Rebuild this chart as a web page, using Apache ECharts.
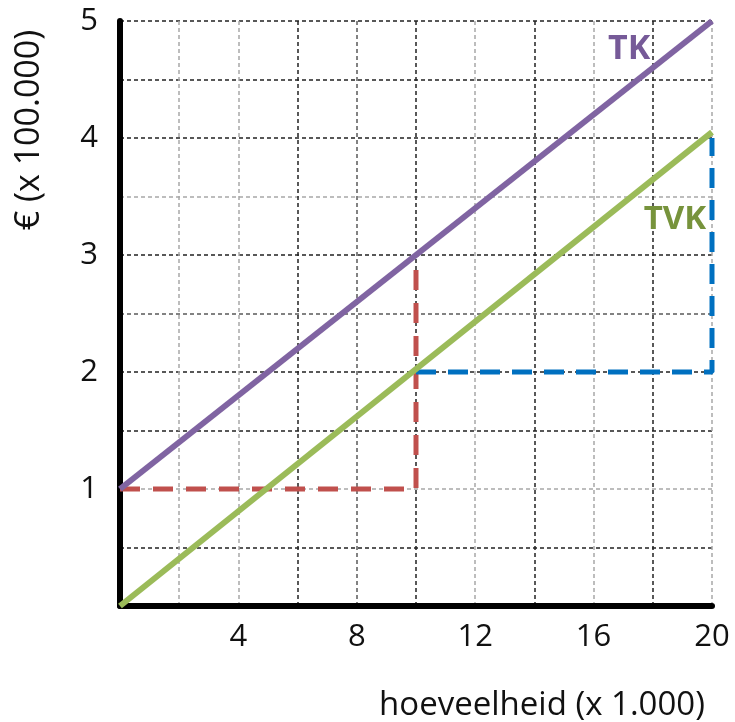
<!DOCTYPE html>
<html>
<head>
<meta charset="utf-8">
<script src="https://cdn.jsdelivr.net/npm/echarts@6/dist/echarts.min.js"></script>
<style>
html,body{margin:0;padding:0;background:#fff;}
#chart{width:735px;height:722px;}
</style>
</head>
<body>
<div id="chart"></div>
<script>
// Data
const tkX = [0, 20];
const tkY = [1, 5];
const tvkX = [0, 20];
const tvkY = [0, 4.05];
const redX = [0, 10, 10];
const redY = [1, 1, 3];
const blueX = [10, 20, 20];
const blueY = [2, 2, 4];
const xLabelValues = [4, 8, 12, 16, 20];
const yLabelValues = [1, 2, 3, 4, 5];
const tkLabel = ['TK', 17.2, 4.76];
const tvkLabel = ['TVK', 18.75, 3.3];
const xName = 'hoeveelheid (x 1.000)';
const yName = '€ (x 100.000)';

function pairs(xs, ys) { return xs.map((x, i) => [x, ys[i]]); }

const FONT = '"Open Sans", "Liberation Sans", sans-serif';
const D = '#222', L = '#a8a8a8', M = '#5a5a5a';

const chart = echarts.init(document.getElementById('chart'), null, {renderer: 'canvas'});
chart.setOption({
  animation: false,
  backgroundColor: '#fff',
  grid: {left: 120, right: 23, top: 21, bottom: 116, containLabel: false},
  xAxis: {
    type: 'value', min: 0, max: 20, interval: 2,
    axisLine: {show: true, onZero: false, lineStyle: {color: '#000', width: 6}},
    axisTick: {show: false},
    axisLabel: {
      margin: 16, fontSize: 31, fontFamily: FONT, color: '#111',
      formatter: v => xLabelValues.includes(v) ? String(v) : ''
    },
    splitLine: {show: true, lineStyle: {type: [4, 3], width: 1.5,
      color: [M, L, L, D, M, D, L, D, L, D, L]}}
  },
  yAxis: {
    type: 'value', min: 0, max: 5, interval: 0.5,
    axisLine: {show: true, onZero: false, lineStyle: {color: '#000', width: 6}},
    axisTick: {show: false},
    axisLabel: {
      margin: 22, fontSize: 31, fontFamily: FONT, color: '#111',
      formatter: v => yLabelValues.includes(v) ? String(v) : ''
    },
    splitLine: {show: true, lineStyle: {type: [4, 3], width: 1.5,
      color: [M, D, L, D, D, M, D, L, D, D, D]}}
  },
  series: [
    {
      name: 'red', type: 'line', data: pairs(redX, redY), symbol: 'none', z: 3,
      lineStyle: {color: '#c0504d', width: 5, type: [20, 13]}
    },
    {
      name: 'blue', type: 'line', data: pairs(blueX, blueY), symbol: 'none', z: 3,
      lineStyle: {color: '#0070c0', width: 5, type: [20, 12]}
    },
    {
      name: 'TK', type: 'line', data: pairs(tkX, tkY), symbol: 'none', z: 4,
      lineStyle: {color: '#8064a2', width: 6},
      markPoint: {
        symbol: 'circle', symbolSize: 0,
        label: {show: true, position: 'inside', formatter: tkLabel[0], fontSize: 34, fontWeight: 'bold', fontFamily: FONT, color: '#765a98'},
        data: [{coord: [tkLabel[1], tkLabel[2]]}]
      }
    },
    {
      name: 'TVK', type: 'line', data: pairs(tvkX, tvkY), symbol: 'none', z: 4,
      lineStyle: {color: '#9bbb59', width: 6},
      markPoint: {
        symbol: 'circle', symbolSize: 0,
        label: {show: true, position: 'inside', formatter: tvkLabel[0], fontSize: 33, fontWeight: 'bold', fontFamily: FONT, color: '#77933c'},
        data: [{coord: [tvkLabel[1], tvkLabel[2]]}]
      }
    }
  ],
  graphic: [
    {type: 'text', x: 542, y: 706, style: {text: xName, font: '33px ' + FONT, fill: '#111', align: 'center', verticalAlign: 'middle'}},
    {type: 'text', x: 29, y: 130, rotation: Math.PI / 2, style: {text: yName, font: '34px ' + FONT, fill: '#111', align: 'center', verticalAlign: 'middle'}}
  ]
});
</script>
</body>
</html>
